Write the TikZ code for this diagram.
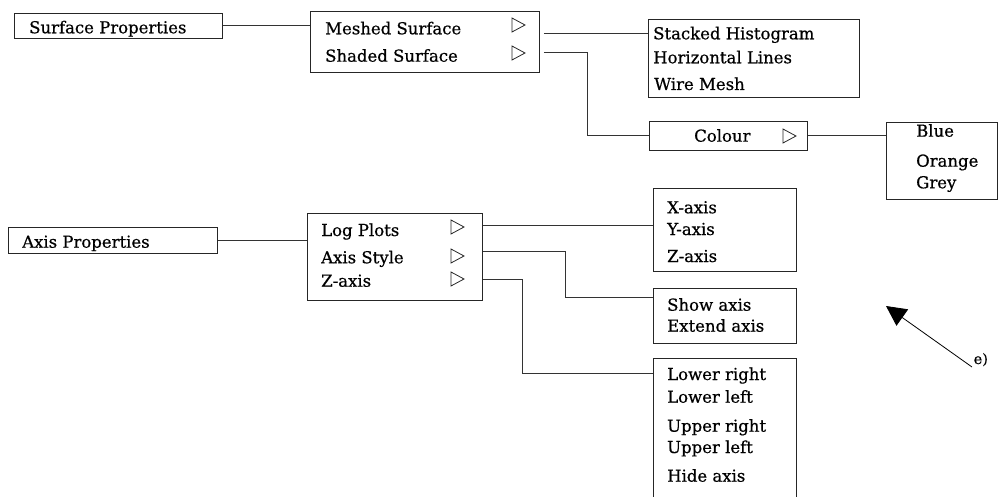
\documentclass[tikz,border=0pt]{standalone}
\usepackage{fontspec}
\setmainfont[FakeBold=0.6]{DejaVu Serif}
\usetikzlibrary{arrows.meta}
\tikzset{
  box/.style={draw=black!85, line width=0.9pt, anchor=north west, inner sep=0pt, fill=none},
  lbl/.style={anchor=base west, inner sep=0pt, font=\fontsize{16.5}{20}\selectfont},
  conn/.style={draw=black!80, line width=0.9pt},
  tri/.pic={\draw[black!85, line width=0.8pt] (0,-7) -- (13,0) -- (0,7) -- cycle;}
}
\begin{document}
\begin{tikzpicture}[x=1pt,y=-1pt]
\useasboundingbox (0,0) rectangle (998,497);
\clip (0,0) rectangle (998,497);
% boxes
\node[box, minimum width=208pt, minimum height=25pt] (sp) at (14,13) {};
\node[box, minimum width=229pt, minimum height=61pt] (ms) at (310,11) {};
\node[box, minimum width=211pt, minimum height=78pt] (sh) at (648,19) {};
\node[box, minimum width=158pt, minimum height=29pt] (col) at (649,121) {};
\node[box, minimum width=111pt, minimum height=77pt] (bl) at (886,122) {};
\node[box, minimum width=209pt, minimum height=26pt] (ap) at (8,227) {};
\node[box, minimum width=175pt, minimum height=87pt] (lp) at (307,213) {};
\node[box, minimum width=143pt, minimum height=83pt] (xa) at (653,188) {};
\node[box, minimum width=143pt, minimum height=55pt] (sa) at (653,288) {};
\node[box, minimum width=143pt, minimum height=160pt] (lr) at (653,358) {};
% labels
\node[lbl] (t1) at (29,33.3) {Surface Properties};
\node[lbl] (t2) at (325,34.3) {Meshed Surface};
\node[lbl] (t3) at (325,61.7) {Shaded Surface};
\node[lbl] (t4) at (653,39.3) {Stacked Histogram};
\node[lbl] (t5) at (653,63.3) {Horizontal Lines};
\node[lbl] (t6) at (654,90) {Wire Mesh};
\node[lbl] (t7) at (694,141.7) {Colour};
\node[lbl] (t8) at (916,136.7) {Blue};
\node[lbl] (t9) at (916,166.7) {Orange};
\node[lbl] (t10) at (916,188.3) {Grey};
\node[lbl] (t11) at (22,247.7) {Axis Properties};
\node[lbl] (t12) at (321,236) {Log Plots};
\node[lbl] (t13) at (321,263.3) {Axis Style};
\node[lbl] (t14) at (321,286.7) {Z-axis};
\node[lbl] (t15) at (667,213.3) {X-axis};
\node[lbl] (t16) at (667,235) {Y-axis};
\node[lbl] (t17) at (667,262) {Z-axis};
\node[lbl] (t18) at (667,310.7) {Show axis};
\node[lbl] (t19) at (667,331.7) {Extend axis};
\node[lbl] (t20) at (667,380) {Lower right};
\node[lbl] (t21) at (667,402.7) {Lower left};
\node[lbl] (t22) at (667,431.7) {Upper right};
\node[lbl] (t23) at (667,453) {Upper left};
\node[lbl] (t24) at (667,481.7) {Hide axis};
% triangles
\pic at (512,25) {tri};
\pic at (512,53) {tri};
\pic at (783,136) {tri};
\pic at (451,227) {tri};
\pic at (451,256) {tri};
\pic at (451,279) {tri};
% connectors
\draw[conn] (sp.east) -- (sp.east -| ms.west);
\draw[conn, shorten <=4pt] (ms.east |- 0,33) -- (sh.west |- 0,33);
\draw[conn, shorten <=4pt] (ms.east |- 0,52) -- (587,52) |- (col.west);
\draw[conn] (col.east) -- (col.east -| bl.west);
\draw[conn] (ap.east) -- (ap.east -| lp.west);
\draw[conn] (lp.east |- 0,225) -- (xa.west |- 0,225);
\draw[conn] (lp.east |- 0,251) -- (565,251) |- (sa.west |- 0,297);
\draw[conn] (lp.east |- 0,279) -- (522,279) |- (lr.west |- 0,373);
% arrow
\coordinate (ea) at (972,367);
\coordinate (eb) at (886,306);
\draw[draw=black, line width=0.8pt, -{Triangle[length=20pt,width=20pt]}] (ea) -- (eb);
\node[anchor=base west, inner sep=0pt, font=\fontsize{14.5}{17}\selectfont] (elab) at (973.5,364) {e)};
\end{tikzpicture}
\end{document}
